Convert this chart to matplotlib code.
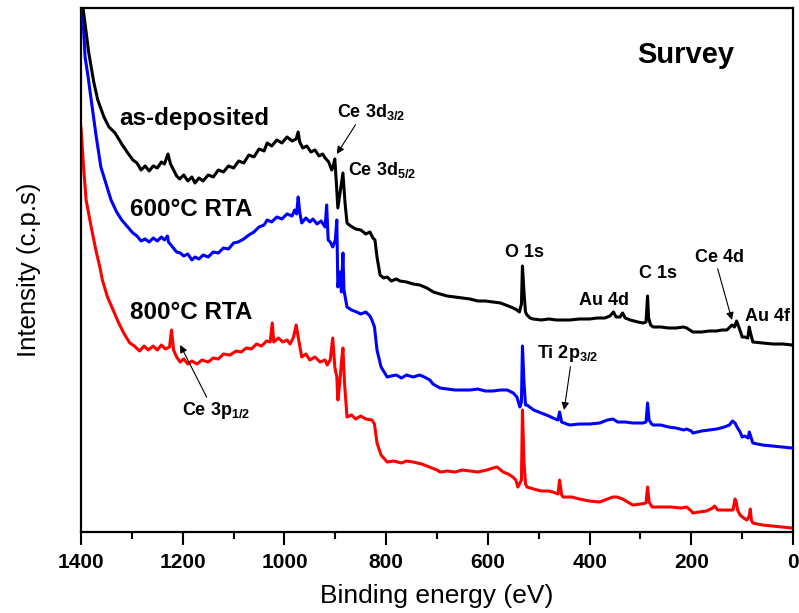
import numpy as np
import matplotlib
matplotlib.use("Agg")
import matplotlib.pyplot as plt
from matplotlib.ticker import MultipleLocator

plt.rcParams['font.family'] = ['Liberation Sans', 'DejaVu Sans']
plt.rcParams['mathtext.fontset'] = 'custom'
plt.rcParams['mathtext.rm'] = 'Liberation Sans'
plt.rcParams['mathtext.bf'] = 'Liberation Sans:bold'

# Survey spectra as (binding energy eV, intensity arb. c.p.s.) pairs
as_deposited = [
    (1398, 540), (1396, 524), (1385, 480), (1375, 450), (1367, 432), (1355, 415), (1345, 405),
    (1333, 399), (1320, 388), (1308, 379), (1298, 372), (1290, 369), (1282, 362), (1274, 366),
    (1266, 361), (1258, 366), (1250, 364), (1242, 370), (1236, 368), (1229, 378), (1224, 368),
    (1218, 362), (1212, 356), (1206, 353), (1198, 357), (1190, 351), (1182, 355), (1176, 349),
    (1168, 354), (1160, 351), (1150, 357), (1140, 355), (1130, 362), (1120, 360), (1110, 366),
    (1100, 364), (1090, 371), (1080, 369), (1070, 377), (1060, 375), (1050, 383), (1040, 381),
    (1034, 389), (1025, 386), (1015, 392), (1005, 389), (995, 395), (985, 391), (977, 393),
    (973, 400), (970, 390), (964, 384), (956, 386), (948, 380), (940, 382), (932, 376),
    (925, 378), (920, 374), (913, 370), (907, 362), (904, 366), (901, 373), (898, 350),
    (895, 324), (891, 338), (885, 359), (881, 330), (877, 309), (870, 306), (860, 303),
    (850, 302), (840, 298), (832, 300), (826, 294), (822, 292), (818, 275), (812, 257),
    (805, 254), (798, 255), (790, 251), (780, 253), (773, 251), (760, 250), (747, 248),
    (734, 247), (720, 244), (707, 240), (694, 238), (680, 236), (665, 235), (650, 234),
    (635, 233), (620, 231), (605, 231), (590, 230), (575, 229), (560, 226), (550, 224),
    (543, 222), (538, 220), (534, 228), (532, 266), (529, 240), (526, 220), (523, 217),
    (517, 214), (511, 213), (495, 212), (480, 213), (465, 212), (450, 212), (439, 212),
    (420, 213), (400, 213), (385, 214), (370, 214), (360, 216), (353, 220), (348, 215),
    (340, 215), (335, 219), (330, 214), (320, 212), (305, 210), (295, 209), (289, 210),
    (286, 236), (284, 214), (280, 207), (275, 205), (260, 205), (245, 204), (230, 204),
    (215, 205), (209, 204), (200, 201), (197, 200), (180, 200), (165, 201), (150, 201),
    (140, 202), (130, 202), (124, 205), (120, 207), (115, 205), (111, 211), (108, 207),
    (103, 200), (100, 195), (95, 195), (89, 194), (86, 205), (84, 200), (79, 190),
    (60, 189), (40, 188), (20, 188), (2, 187),
]

rta_600 = [
    (1400, 524), (1397, 522), (1392, 475), (1386, 455), (1380, 432), (1370, 395), (1361, 365),
    (1350, 347), (1341, 332), (1330, 320), (1320, 312), (1308, 305), (1298, 299), (1290, 296),
    (1282, 291), (1274, 293), (1266, 290), (1258, 294), (1250, 291), (1242, 295), (1236, 292),
    (1230, 296), (1228, 290), (1220, 285), (1212, 280), (1205, 279), (1198, 276), (1190, 278),
    (1182, 272), (1176, 275), (1168, 273), (1160, 277), (1150, 275), (1140, 280), (1130, 279),
    (1120, 284), (1110, 283), (1100, 289), (1091, 290), (1080, 293), (1070, 297), (1060, 300),
    (1050, 305), (1040, 307), (1034, 312), (1025, 310), (1015, 315), (1005, 313), (995, 318),
    (985, 316), (980, 322), (976, 318), (973, 335), (970, 320), (966, 309), (958, 314),
    (950, 310), (944, 313), (936, 308), (928, 311), (920, 305), (917, 327), (914, 292),
    (910, 290), (905, 285), (900, 292), (897, 312), (895, 245), (891, 260), (888, 240),
    (885, 279), (883, 242), (877, 225), (868, 222), (858, 220), (850, 218), (840, 220),
    (832, 216), (828, 212), (823, 205), (818, 182), (810, 165), (798, 155), (790, 156),
    (780, 157), (770, 154), (760, 157), (747, 155), (734, 157), (725, 155), (714, 152),
    (708, 148), (694, 144), (680, 143), (665, 142), (650, 142), (635, 142), (620, 143),
    (605, 141), (590, 141), (575, 142), (562, 142), (550, 139), (543, 135), (537, 125),
    (534, 130), (532, 186), (529, 150), (526, 127), (523, 127), (510, 122), (495, 119),
    (480, 116), (472, 114), (462, 112), (459, 120), (455, 110), (445, 108), (439, 107),
    (420, 108), (400, 108), (380, 109), (365, 112), (354, 113), (345, 110), (330, 110),
    (315, 109), (295, 109), (289, 110), (286, 129), (283, 112), (278, 108), (275, 107),
    (260, 107), (245, 105), (230, 104), (215, 102), (209, 103), (200, 101), (197, 99),
    (180, 101), (165, 102), (150, 103), (135, 105), (125, 107), (119, 111), (114, 109),
    (109, 104), (104, 100), (100, 95), (95, 96), (88, 94), (86, 100), (84, 97), (79, 89),
    (60, 87), (40, 86), (20, 85), (2, 84),
]

rta_800 = [
    (1400, 404), (1395, 365), (1390, 332), (1380, 305), (1370, 280), (1363, 265), (1358, 252),
    (1348, 235), (1337, 222), (1325, 208), (1315, 198), (1304, 189), (1295, 186), (1285, 181),
    (1276, 186), (1268, 182), (1258, 186), (1250, 182), (1242, 187), (1234, 183), (1226, 185),
    (1222, 202), (1218, 182), (1212, 175), (1205, 170), (1198, 173), (1190, 168), (1182, 171),
    (1172, 168), (1162, 172), (1150, 170), (1140, 174), (1130, 173), (1120, 178), (1107, 177),
    (1095, 181), (1085, 180), (1075, 184), (1065, 183), (1055, 188), (1045, 186), (1035, 191),
    (1028, 190), (1024, 209), (1021, 190), (1012, 194), (1003, 190), (995, 192), (989, 188),
    (982, 195), (977, 207), (973, 195), (966, 175), (958, 178), (950, 172), (940, 175),
    (930, 170), (920, 172), (916, 167), (910, 172), (905, 194), (901, 165), (897, 155),
    (895, 132), (891, 150), (888, 170), (885, 184), (882, 150), (877, 115), (868, 117),
    (860, 113), (850, 116), (840, 113), (828, 112), (823, 108), (818, 89), (810, 77),
    (798, 70), (785, 71), (770, 69), (760, 71), (747, 70), (730, 68), (715, 65), (700, 62),
    (694, 60), (680, 61), (665, 60), (650, 62), (635, 61), (620, 60), (602, 62), (590, 64),
    (582, 65), (570, 60), (560, 58), (551, 55), (545, 52), (541, 45), (534, 52), (532, 122),
    (529, 70), (526, 48), (523, 45), (510, 43), (495, 41), (480, 41), (472, 40), (462, 38),
    (459, 52), (455, 37), (452, 35), (435, 35), (420, 33), (400, 31), (380, 30), (365, 33),
    (354, 35), (346, 35), (335, 33), (325, 30), (315, 27), (300, 28), (289, 29), (286, 45),
    (283, 30), (277, 25), (260, 25), (240, 25), (220, 24), (209, 25), (200, 21), (197, 19),
    (185, 20), (170, 21), (158, 24), (154, 26), (148, 22), (130, 22), (118, 22), (114, 33),
    (112, 31), (109, 22), (104, 17), (97, 14), (91, 12), (86, 16), (84, 23), (82, 12),
    (79, 9), (60, 7), (40, 6), (20, 5), (2, 4),
]

fig = plt.figure(figsize=(7.99, 6.13), dpi=100)
ax = fig.add_axes([0.1014, 0.1321, 0.8911, 0.8549])

for data, col, z in [(rta_800, '#ff0000', 2), (rta_600, '#0000ff', 3), (as_deposited, 'black', 4)]:
    e, i = np.array(data).T
    ax.plot(e, i, color=col, lw=2.2, zorder=z)

ax.set_xlim(1400, 0)
ax.set_ylim(0, 524)
ax.xaxis.set_major_locator(MultipleLocator(200))
ax.xaxis.set_minor_locator(MultipleLocator(100))
ax.tick_params(axis='x', which='major', direction='out', length=9, width=1.5,
               labelsize=15, pad=6, top=False)
ax.tick_params(axis='x', which='minor', direction='out', length=5, width=1.5, top=False)
ax.tick_params(axis='y', left=False, labelleft=False)
for lab in ax.get_xticklabels():
    lab.set_fontweight('bold')
for sp in ax.spines.values():
    sp.set_linewidth(1.6)

ax.set_xlabel('Binding energy (eV)', fontsize=19, labelpad=9)
ax.set_ylabel('Intensity (c.p.s)', fontsize=18.5, labelpad=29)

# sample labels
big = dict(fontsize=17.5, fontweight='bold', va='center', ha='left')
ax.text(1325, 413, 'as-deposited', **big)
ax.text(1304, 322, '600°C RTA', **big)
ax.text(1304, 220, '800°C RTA', **big)
ax.text(0.85, 0.91, 'Survey', transform=ax.transAxes, fontsize=21, fontweight='bold',
        ha='center', va='center')

# peak labels
pk = dict(fontsize=13, fontweight='bold', va='baseline')
arrow = dict(arrowstyle='-|>', color='black', lw=0.8, mutation_scale=11, shrinkA=0, shrinkB=0)
ax.annotate('Ce 3d$_{\\mathbf{3/2}}$', xy=(897, 378), xytext=(897, 415), ha='left',
            arrowprops=dict(arrow, relpos=(0.3, 0.0)), **pk)
ax.text(875, 357, 'Ce 3d$_{\\mathbf{5/2}}$', ha='left', **pk)
ax.text(527, 275, 'O 1s', ha='center', **pk)
ax.text(266, 254, 'C 1s', ha='center', **pk)
ax.text(421, 227, 'Au 4d', ha='left', **pk)
ax.annotate('Ce 4d', xy=(120, 212), xytext=(193, 270), ha='left',
            arrowprops=dict(arrow, relpos=(0.45, 0.0)), **pk)
ax.text(95, 211, 'Au 4f', ha='left', **pk)
ax.annotate('Ti 2p$_{\\mathbf{3/2}}$', xy=(450, 122), xytext=(503, 174), ha='left',
            arrowprops=dict(arrow, relpos=(0.55, 0.0)), **pk)
ax.annotate('Ce 3p$_{\\mathbf{1/2}}$', xy=(1205, 187), xytext=(1201, 117), ha='left',
            arrowprops=dict(arrow, relpos=(0.38, 1.0)), **pk)

fig.savefig('out.png', dpi=100)
